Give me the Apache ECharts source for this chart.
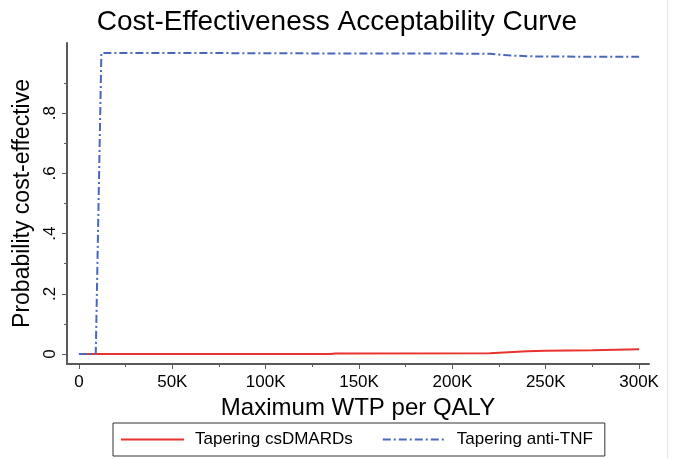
<!DOCTYPE html>
<html>
<head>
<meta charset="utf-8">
<script src="https://cdn.jsdelivr.net/npm/echarts@6/dist/echarts.min.js"></script>
<style>html,body{margin:0;padding:0;background:#fff}#c{width:674px;height:459px}</style>
</head>
<body>
<div id="c"></div>
<script>
// WTP thresholds (x) and probability cost-effective (y) per strategy
var csdmardsX = [0, 135000, 137000, 220000, 230000, 240000, 250000, 275000, 300000];
var csdmardsY = [0, 0, 0.002, 0.003, 0.006, 0.009, 0.011, 0.013, 0.016];
var antiTnfX = [0, 9000, 12000, 50000, 100000, 150000, 200000, 220000, 230000, 240000, 250000, 300000];
var antiTnfY = [0, 0, 1.0, 1.0, 0.999, 0.998, 0.998, 0.997, 0.992, 0.989, 0.988, 0.987];
var xMajorTicks = [0, 50000, 100000, 150000, 200000, 250000, 300000];
var xMinorTicks = [25000, 75000, 125000, 175000, 225000, 275000];
var yMajorTicks = [0, 0.2, 0.4, 0.6, 0.8];
var yMinorTicks = [0.1, 0.3, 0.5, 0.7, 0.9];
var seriesNames = ['Tapering csDMARDs', 'Tapering anti-TNF'];

function pairs(xs, ys) { return xs.map(function (x, i) { return [x, ys[i]]; }); }
var FONT = 'Liberation Sans';
var AXIS = '#5a5a5a';
var chart = echarts.init(document.getElementById('c'));
var xMin = -6400, xMax = 305300, yMin = -0.033, yMax = 1.033;
chart.setOption({
  backgroundColor: '#fff',
  animation: false,
  title: {
    text: 'Cost-Effectiveness Acceptability Curve',
    left: 'center', top: 3,
    textStyle: { fontFamily: FONT, fontSize: 28, fontWeight: 'normal', color: '#000' }
  },
  grid: { left: 67, right: 25, top: 43, bottom: 95, containLabel: false },
  legend: {
    data: seriesNames,
    left: 113, top: 423,
    borderColor: '#333', borderWidth: 1,
    padding: [8, 12, 8, 7],
    itemWidth: 63, itemHeight: 14, itemGap: 29,
    itemStyle: { opacity: 0 },
    textStyle: { fontFamily: FONT, fontSize: 17, color: '#000', padding: [0, 0, 0, 6] }
  },
  xAxis: [{
    type: 'value', min: xMin, max: xMax,
    name: 'Maximum WTP per QALY', nameLocation: 'middle', nameGap: 23,
    nameTextStyle: { fontFamily: FONT, fontSize: 24, color: '#000' },
    axisLine: { show: true, onZero: false, lineStyle: { color: AXIS, width: 2 } },
    axisTick: { show: true, length: 5, customValues: xMajorTicks, lineStyle: { color: AXIS, width: 1 } },
    axisLabel: { customValues: xMajorTicks, margin: 10, fontFamily: FONT, fontSize: 17, color: '#000',
      formatter: function (v) { return v === 0 ? '0' : (v / 1000) + 'K'; } },
    splitLine: { show: false }
  }, {
    type: 'value', min: xMin, max: xMax, position: 'bottom',
    axisLine: { show: false, onZero: false },
    axisTick: { show: true, length: 3, customValues: xMinorTicks, lineStyle: { color: AXIS, width: 1 } },
    axisLabel: { show: false },
    splitLine: { show: false }
  }],
  yAxis: [{
    type: 'value', min: yMin, max: yMax,
    name: 'Probability cost-effective', nameLocation: 'middle', nameGap: 23, nameRotate: 90,
    nameTextStyle: { fontFamily: FONT, fontSize: 23, color: '#000' },
    axisLine: { show: true, onZero: false, lineStyle: { color: AXIS, width: 2 } },
    axisTick: { show: true, length: 5, customValues: yMajorTicks, lineStyle: { color: AXIS, width: 1 } },
    axisLabel: { customValues: yMajorTicks, rotate: 90, margin: 8, fontFamily: FONT, fontSize: 17, color: '#000',
      formatter: function (v) { return v === 0 ? '0' : String(v).replace(/^0/, ''); } },
    splitLine: { show: false }
  }, {
    type: 'value', min: yMin, max: yMax, position: 'left',
    axisLine: { show: false, onZero: false },
    axisTick: { show: true, length: 3, customValues: yMinorTicks, lineStyle: { color: AXIS, width: 1 } },
    axisLabel: { show: false },
    splitLine: { show: false }
  }],
  series: [{
    name: seriesNames[0], type: 'line', symbol: 'none', data: pairs(csdmardsX, csdmardsY),
    lineStyle: { color: '#e8332f', width: 2, type: 'solid' }, itemStyle: { color: '#e8332f' }, z: 2
  }, {
    name: seriesNames[1], type: 'line', symbol: 'none', data: pairs(antiTnfX, antiTnfY),
    lineStyle: { color: '#4a66be', width: 2, type: [8, 3, 2, 3] }, itemStyle: { color: '#4a66be' }, z: 3
  }],
  graphic: [{
    type: 'line', shape: { x1: 667.5, y1: 0, x2: 667.5, y2: 459 },
    style: { stroke: '#e6e6e6', lineWidth: 1 }
  }]
});
</script>
</body>
</html>
